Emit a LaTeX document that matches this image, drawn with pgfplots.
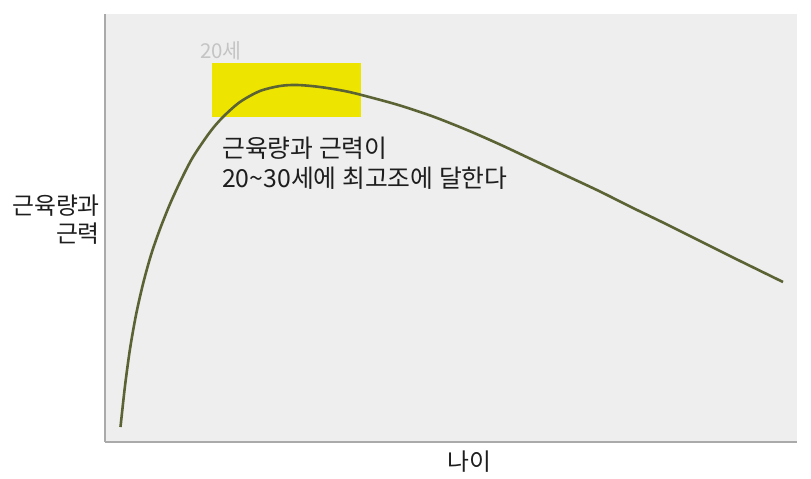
\documentclass[border=0pt]{standalone}
\usepackage{pgfplots}
\pgfplotsset{compat=1.18}
\usepackage{fontspec}
\setmainfont{Noto Sans CJK KR}

\definecolor{plotbg}{HTML}{EEEEEE}
\definecolor{axisgray}{HTML}{AAAAAA}
\definecolor{curve}{HTML}{5B6334}
\definecolor{hilite}{HTML}{EDE500}
\definecolor{agegray}{HTML}{C4C4C4}
\definecolor{ink}{HTML}{1E1E1E}

\begin{document}
\begin{tikzpicture}
\begin{axis}[
    x=1pt, y=1pt,
    xmin=105, xmax=797,
    ymin=37, ymax=465,
    axis lines=left,
    axis line style={-, draw=axisgray, line width=1.6pt},
    axis background/.style={fill=plotbg},
    xtick=\empty, ytick=\empty,
    clip=false,
]
% highlight box for the peak
\addplot[fill=hilite, draw=none] coordinates {
    (212,362) (361,362) (361,416) (212,416)
} -- cycle;

% muscle mass over age
\addplot[color=curve, line width=2.6pt, smooth] coordinates {
    (120.5,52) (125,93) (130,130) (136,164) (143,195) (151,224)
    (160,250) (170,275) (181,299) (193,322) (210,347) (223,362)
    (240,377) (260,388) (280,393) (297,394) (320,392) (347,387.5)
    (373,381) (400,373.5) (433,362.5) (467,349) (500,334.5) (533,319)
    (567,303) (600,287.5) (633,271) (667,254.5) (700,238) (733,221.5)
    (783,197)
};

\node[anchor=base west, text=agegray, font=\fontsize{20.5}{22}\selectfont, inner sep=0pt]
    at (axis cs:200,420) {20세};
\node[anchor=base west, text=ink, font=\fontsize{24.8}{26}\selectfont, inner sep=0pt]
    at (axis cs:222,321) {근육량과 근력이};
\node[anchor=base west, text=ink, font=\fontsize{24.8}{26}\selectfont, inner sep=0pt]
    at (axis cs:222,291) {20\textasciitilde30세에 최고조에 달한다};
\node[anchor=base east, text=ink, font=\fontsize{23.8}{26}\selectfont, inner sep=0pt]
    at (axis cs:100,264) {근육량과};
\node[anchor=base east, text=ink, font=\fontsize{23.8}{26}\selectfont, inner sep=0pt]
    at (axis cs:100,236) {근력};
\node[anchor=base, text=ink, font=\fontsize{23.8}{26}\selectfont, inner sep=0pt]
    at (axis cs:469,9) {나이};

\path (axis cs:0,0) rectangle (axis cs:811,479);
\end{axis}
\end{tikzpicture}
\end{document}
